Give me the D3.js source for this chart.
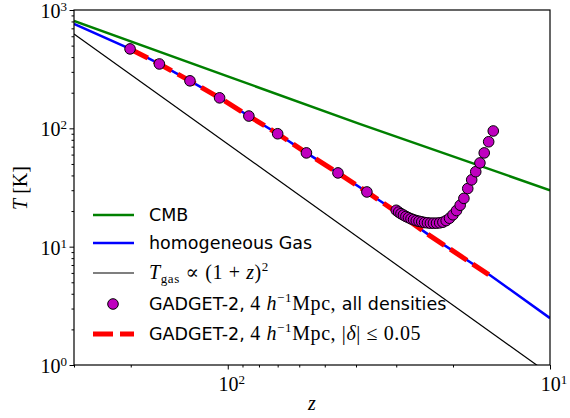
<!DOCTYPE html>
<html>
<head>
<meta charset="utf-8">
<script src="https://cdnjs.cloudflare.com/ajax/libs/d3/7.8.5/d3.min.js"></script>
<style>
  body { margin: 0; background: #fff; }
  svg { display: block; }
  .tick-label { font-family: "Liberation Serif", "DejaVu Serif", serif; font-size: 20px; }
  .leg { font-family: "DejaVu Sans", sans-serif; font-size: 17.5px; }
  .leg .math { font-family: "Liberation Serif", "DejaVu Serif", serif; font-size: 20px; letter-spacing: 0.6px; }
</style>
</head>
<body>
<svg width="570" height="418"></svg>
<script>
// values: [z, T in K]
var cmb = [[300, 807], [100, 275], [39, 109], [10, 30]];
var homGas = [[300, 762], [201, 469], [163, 350], [131, 252], [106, 181], [86, 127], [70, 90],
              [57, 62], [45.5, 42], [37, 29], [30, 19.7], [23.6, 12.4], [15.3, 5.7], [10, 2.49]];
var tSquared = [[300, 627], [10, 0.83]];
var gadgetZ = [201, 163, 131, 106, 86, 70, 57, 45.5, 37,
               30, 29.5, 29, 28.5, 28, 27.5, 27, 26.5, 26, 25.5, 25, 24.5, 24, 23.5, 23, 22.5,
               22, 21.5, 21, 20.5, 20, 19.5, 19, 18.5, 18, 17.5, 17, 16.5, 16, 15.5, 15];
var gadgetT = [469, 350, 252, 181, 127, 90, 62, 42, 29,
               20.3, 19.6, 19.0, 18.5, 18.0, 17.6, 17.2, 16.9, 16.6, 16.4, 16.2, 16.0, 15.9, 15.8, 15.8, 15.8,
               15.9, 16.1, 16.6, 17.4, 18.6, 20.2, 22.4, 25.6, 31, 36.7, 43, 51, 62, 77, 95];
var lowDelta = [[201, 469], [163, 350], [131, 252], [106, 181], [86, 127], [70, 90], [57, 62],
                [45.5, 42], [37, 29], [30, 19.7], [23.6, 12.4], [15.5, 5.8]];
var xTicks = [100, 10];
var yTicks = [1, 10, 100, 1000];

var svg = d3.select("svg");
var L = 74, R = 550, T = 10, B = 365;

var x = d3.scaleLog().domain([300, 10]).range([L, R]);
var y = d3.scaleLog().domain([1, 1000]).range([B, T]);

svg.append("clipPath").attr("id", "plot")
  .append("rect").attr("x", L).attr("y", T).attr("width", R - L).attr("height", B - T);

var line = d3.line().x(function(d){ return x(d[0]); }).y(function(d){ return y(d[1]); });
var g = svg.append("g").attr("clip-path", "url(#plot)");

g.append("path").datum(cmb).attr("d", line)
  .attr("fill", "none").attr("stroke", "#008000").attr("stroke-width", 2.5);
g.append("path").datum(homGas).attr("d", line)
  .attr("fill", "none").attr("stroke", "#0000ff").attr("stroke-width", 2.5);
g.append("path").datum(tSquared).attr("d", line)
  .attr("fill", "none").attr("stroke", "#000").attr("stroke-width", 1.2);
g.append("path").datum(lowDelta).attr("d", line)
  .attr("fill", "none").attr("stroke", "#ff0000").attr("stroke-width", 5)
  .attr("stroke-dasharray", "20,7");

g.selectAll("circle.pt").data(d3.zip(gadgetZ, gadgetT)).enter()
  .append("circle").attr("class", "pt")
  .attr("cx", function(d){ return x(d[0]); })
  .attr("cy", function(d){ return y(d[1]); })
  .attr("r", 5.3)
  .attr("fill", "#bf00bf").attr("stroke", "#000").attr("stroke-width", 1);

// axes
var minorX = [];
for (var v = 20; v <= 90; v += 10) minorX.push(v);
for (var v = 200; v <= 300; v += 100) minorX.push(v);
var minorY = [];
[1, 10, 100].forEach(function(p){ for (var k = 2; k <= 9; k++) minorY.push(p * k); });

var xAxis = d3.axisBottom(x).tickValues(xTicks).tickSize(4.5).tickFormat("");
var xMinor = d3.axisBottom(x).tickValues(minorX).tickSize(2.5).tickFormat("");
var yAxis = d3.axisLeft(y).tickValues(yTicks).tickSize(4.5).tickFormat("");
var yMinor = d3.axisLeft(y).tickValues(minorY).tickSize(2.5).tickFormat("");

[svg.append("g").attr("transform", "translate(0," + B + ")").call(xAxis),
 svg.append("g").attr("transform", "translate(0," + B + ")").call(xMinor),
 svg.append("g").attr("transform", "translate(" + L + ",0)").call(yAxis),
 svg.append("g").attr("transform", "translate(" + L + ",0)").call(yMinor)].forEach(function(a){
  a.select(".domain").remove();
  a.selectAll("line").attr("stroke", "#000").attr("stroke-width", 1);
});

svg.append("rect").attr("x", L).attr("y", T).attr("width", R - L).attr("height", B - T)
  .attr("fill", "none").attr("stroke", "#000").attr("stroke-width", 1.2);

// tick labels 10^n
xTicks.forEach(function(v){
  var t = svg.append("text").attr("class", "tick-label")
    .attr("x", x(v) + 4).attr("y", 391).attr("text-anchor", "middle");
  t.append("tspan").text("10");
  t.append("tspan").attr("dy", -7).attr("font-size", 13).text(Math.round(Math.log10(v)));
});
yTicks.forEach(function(v){
  var t = svg.append("text").attr("class", "tick-label")
    .attr("x", 67).attr("y", y(v) + 8).attr("text-anchor", "end");
  t.append("tspan").text("10");
  t.append("tspan").attr("dy", -7).attr("font-size", 13).text(Math.round(Math.log10(v)));
});

// axis labels
svg.append("text").attr("class", "tick-label")
  .attr("transform", "translate(27,188) rotate(-90)").attr("text-anchor", "middle")
  .html('<tspan font-style="italic">T</tspan> [K]');
svg.append("text").attr("class", "tick-label")
  .attr("x", 312).attr("y", 410).attr("text-anchor", "middle").attr("font-style", "italic").text("z");

// legend
var leg = [
  {y: 215, type: "line", color: "#008000", w: 2.5},
  {y: 243, type: "line", color: "#0000ff", w: 2.5},
  {y: 273, type: "line", color: "#000", w: 1.2},
  {y: 304, type: "dot"},
  {y: 334, type: "dash", color: "#ff0000", w: 5}
];
leg.forEach(function(d){
  if (d.type === "dot") {
    svg.append("circle").attr("cx", 113).attr("cy", d.y).attr("r", 5.3)
      .attr("fill", "#bf00bf").attr("stroke", "#000").attr("stroke-width", 1);
  } else {
    svg.append("line").attr("x1", 93).attr("x2", 134).attr("y1", d.y).attr("y2", d.y)
      .attr("stroke", d.color).attr("stroke-width", d.w)
      .attr("stroke-dasharray", d.type === "dash" ? "20,7" : null);
  }
});
function legText(yy, html) {
  svg.append("text").attr("class", "leg").attr("x", 149).attr("y", yy + 6).html(html);
}
legText(215, "CMB");
legText(243, "homogeneous Gas");
legText(273, '<tspan class="math" font-style="italic">T</tspan><tspan class="math" style="font-size:13px" dy="4">gas</tspan>' +
  '<tspan class="math" dy="-4"> ∝ (1 + </tspan><tspan class="math" font-style="italic">z</tspan>' +
  '<tspan class="math">)</tspan><tspan class="math" style="font-size:13px" dy="-8">2</tspan>');
legText(304, 'GADGET-2, <tspan class="math">4 </tspan><tspan class="math" font-style="italic">h</tspan>' +
  '<tspan class="math" style="font-size:13px" dy="-8">−1</tspan><tspan class="math" dy="8">Mpc,</tspan> all densities');
legText(334, 'GADGET-2, <tspan class="math">4 </tspan><tspan class="math" font-style="italic">h</tspan>' +
  '<tspan class="math" style="font-size:13px" dy="-8">−1</tspan><tspan class="math" dy="8">Mpc,  |</tspan>' +
  '<tspan class="math" font-style="italic">δ</tspan><tspan class="math">| ≤ 0.05</tspan>');
</script>
</body>
</html>
